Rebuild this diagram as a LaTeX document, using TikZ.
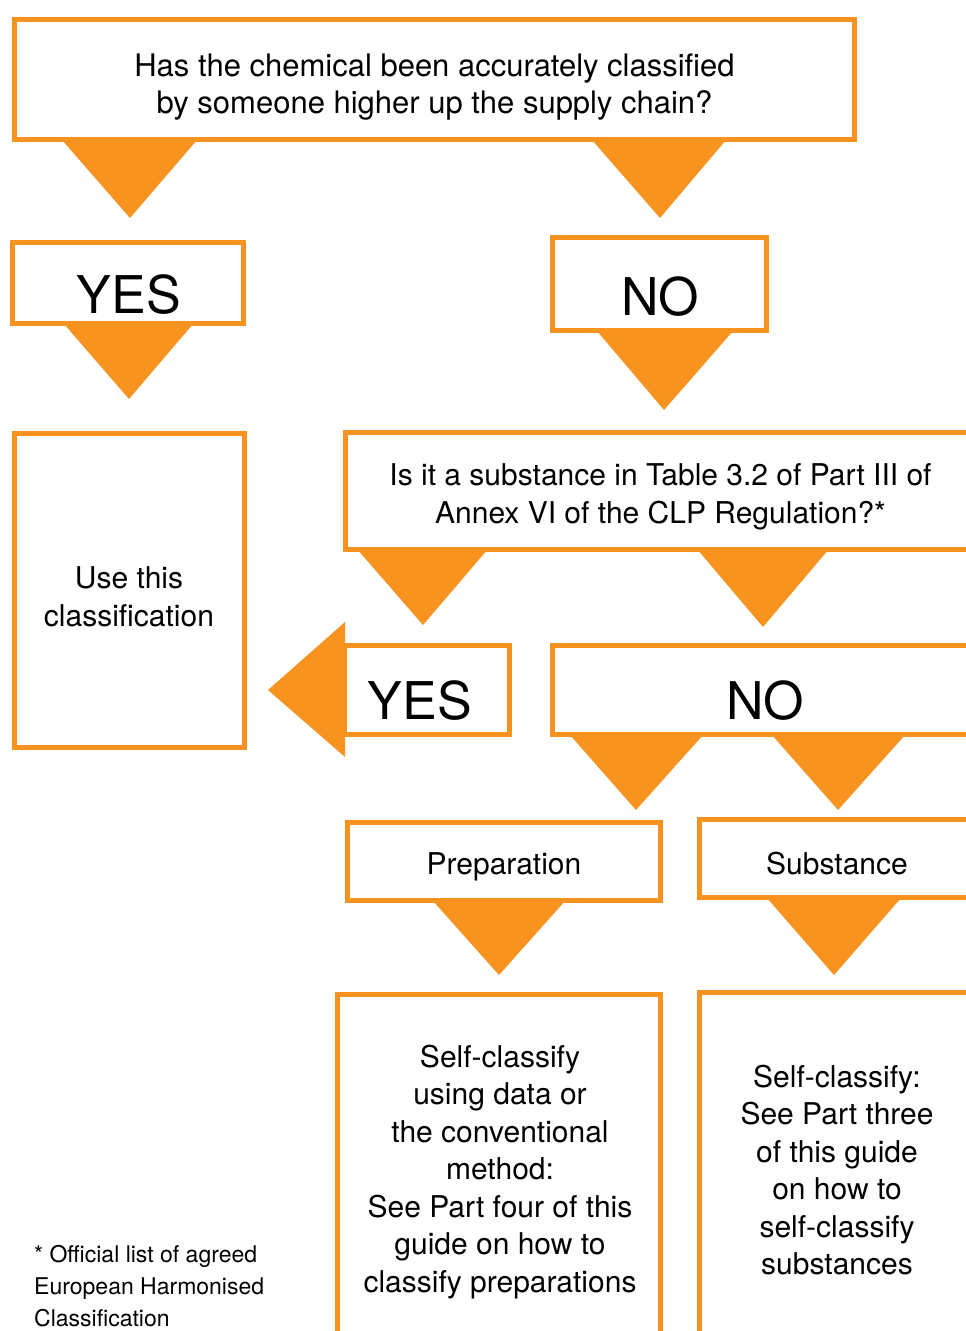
\documentclass[tikz,border=0pt]{standalone}
\usepackage{fontspec}
\setmainfont{TeX Gyre Heros}
\definecolor{clporange}{HTML}{F7931E}
\tikzset{
  box/.style={draw=clporange, line width=5pt, fill=white, inner sep=0pt},
  tri/.style={fill=clporange},
  txt/.style={font=\fontsize{30}{37.5}\selectfont, align=center, inner sep=0pt},
  big/.style={font=\fontsize{52}{60}\selectfont, inner sep=0pt},
  note/.style={font=\fontsize{23}{32}\selectfont, align=left, inner sep=0pt},
}
\begin{document}
\begin{tikzpicture}[x=1pt,y=-1pt]
\useasboundingbox (0,0) rectangle (966,1331);
\clip (0,0) rectangle (966,1331);
% boxes
\node[box,minimum width=840pt,minimum height=120pt] (q1) at (434.5,79.5) {};
\node[box,minimum width=231pt,minimum height=81pt] (yes1) at (128,283) {};
\node[box,minimum width=214pt,minimum height=93pt] (no1) at (659.5,284) {};
\node[box,minimum width=230pt,minimum height=314pt] (use) at (129.5,590.5) {};
\node[box,minimum width=660pt,minimum height=117pt] (q2) at (675.5,490.5) {};
\node[box,minimum width=165pt,minimum height=89pt] (yes2) at (427,690) {};
\node[box,minimum width=450pt,minimum height=89pt] (no2) at (777.5,690) {};
\node[box,minimum width=313pt,minimum height=78pt] (prep) at (504,861.5) {};
\node[box,minimum width=300pt,minimum height=78pt] (subst) at (849.5,858.5) {};
\node[box,minimum width=323pt,minimum height=420pt] (selfp) at (499,1204.5) {};
\node[box,minimum width=300pt,minimum height=420pt] (selfs) at (849.5,1202.5) {};
% arrow heads
\fill[tri] (62,140) -- (197,140) -- (130,218) -- cycle;
\fill[tri] (592,140) -- (726,140) -- (660,218) -- cycle;
\fill[tri] (64,324) -- (193,324) -- (129,399) -- cycle;
\fill[tri] (597,331) -- (733,331) -- (664,410) -- cycle;
\fill[tri] (357,549) -- (488,549) -- (423,625) -- cycle;
\fill[tri] (697,549) -- (829,549) -- (763,627) -- cycle;
\fill[tri] (570,735) -- (703,735) -- (636,810) -- cycle;
\fill[tri] (772,735) -- (905,735) -- (838,810) -- cycle;
\fill[tri] (433,901) -- (565,901) -- (499,975) -- cycle;
\fill[tri] (767,898) -- (901,898) -- (834,975) -- cycle;
\fill[tri] (345,622) -- (345,757) -- (268,690) -- cycle;
% texts
\node[txt,font=\fontsize{31}{37.5}\selectfont] (q1t) at (434.5,87) {Has the chemical been accurately classified\\by someone higher up the supply chain?};
\node[big] (yes1t) at (129,295) {YES};
\node[big] (no1t) at (660,297) {NO};
\node[txt] (uset) at (129,597) {Use this\\classification};
\node[txt] (q2t) at (660.5,497) {Is it a substance in Table 3.2 of Part III of\\Annex VI of the CLP Regulation?*};
\node[big] (yes2t) at (420,701) {YES};
\node[big] (no2t) at (765,701) {NO};
\node[txt] (prept) at (504,867) {Preparation};
\node[txt] (substt) at (837,864) {Substance};
\node[txt] (selfpt) at (500,1172) {Self-classify\\using data or\\the conventional\\method:\\See Part four of this\\guide on how to\\classify preparations};
\node[txt] (selfst) at (837,1170) {Self-classify:\\See Part three\\of this guide\\on how to\\self-classify\\substances};
\node[note,anchor=west] (foot) at (34,1286) {* Official list of agreed\\European Harmonised\\Classification};
\end{tikzpicture}
\end{document}
